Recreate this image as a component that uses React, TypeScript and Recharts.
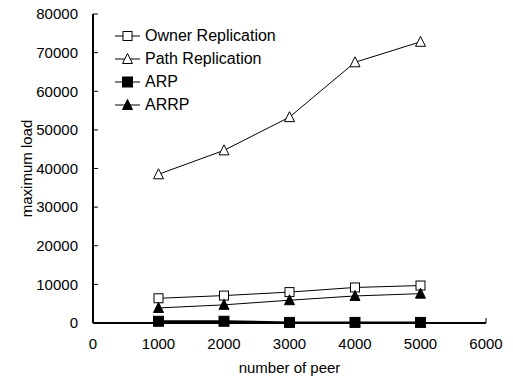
import React from "react";
import { Label, Legend, Line, LineChart, XAxis, YAxis } from "recharts";

const peers = [1000, 2000, 3000, 4000, 5000];
const ownerReplication = [6400, 7100, 8000, 9200, 9700];
const pathReplication = [38500, 44700, 53300, 67500, 72800];
const arp = [450, 450, 150, 150, 150];
const arrp = [3900, 4700, 5900, 7000, 7600];

const xTicks = [0, 1000, 2000, 3000, 4000, 5000, 6000];
const yTicks = [0, 10000, 20000, 30000, 40000, 50000, 60000, 70000, 80000];

const data = peers.map((peer, i) => ({
  peer,
  owner: ownerReplication[i],
  path: pathReplication[i],
  arp: arp[i],
  arrp: arrp[i],
}));

const FONT = "'Liberation Sans', Arial, sans-serif";

type Shape = "openSquare" | "openTriangle" | "square" | "triangle";

function marker(shape: Shape, cx: number, cy: number, key?: string) {
  if (shape === "openSquare" || shape === "square") {
    const s = shape === "square" ? 10 : 9;
    return (
      <rect
        key={key}
        x={cx - s / 2}
        y={cy - s / 2}
        width={s}
        height={s}
        fill={shape === "square" ? "#000" : "#fff"}
        stroke="#000"
        strokeWidth={1}
      />
    );
  }
  const h = 9;
  const w = 10;
  return (
    <polygon
      key={key}
      points={`${cx},${cy - h / 2 - 1} ${cx - w / 2},${cy + h / 2} ${cx + w / 2},${cy + h / 2}`}
      fill={shape === "triangle" ? "#000" : "#fff"}
      stroke="#000"
      strokeWidth={1}
    />
  );
}

const dot = (shape: Shape) => (props: any) => {
  const { cx, cy, index } = props;
  if (cx == null || cy == null) return <g key={index} />;
  return marker(shape, cx, cy, `${shape}-${index}`);
};

const series: { key: string; name: string; shape: Shape }[] = [
  { key: "owner", name: "Owner Replication", shape: "openSquare" },
  { key: "path", name: "Path Replication", shape: "openTriangle" },
  { key: "arp", name: "ARP", shape: "square" },
  { key: "arrp", name: "ARRP", shape: "triangle" },
];

// legend drawn by hand so the markers match the line dots
function LegendBox() {
  return (
    <div style={{ fontFamily: FONT, fontSize: 16, color: "#000" }}>
      {series.map((s) => (
        <div key={s.key} style={{ display: "flex", alignItems: "center", height: 22.8 }}>
          <svg width={30} height={14} style={{ overflow: "visible" }}>
            <line x1={0} y1={7} x2={25} y2={7} stroke="#000" strokeWidth={1} />
            {marker(s.shape, 12.5, 7)}
          </svg>
          <span style={{ lineHeight: "16px", whiteSpace: "nowrap" }}>{s.name}</span>
        </div>
      ))}
    </div>
  );
}

const tickStyle = { fill: "#000", fontSize: 15, fontFamily: FONT };

export default function App() {
  return (
    <div style={{ position: "absolute", left: 0, top: 0, background: "#fff" }}>
      <LineChart
        width={513}
        height={381}
        data={data}
        margin={{ top: 14, right: 27, left: 0, bottom: 0 }}
      >
        <XAxis
          dataKey="peer"
          type="number"
          domain={[0, 6000]}
          ticks={xTicks}
          interval={0}
          height={58}
          tick={tickStyle}
          tickSize={-5}
          tickMargin={20}
          axisLine={{ stroke: "#000", strokeWidth: 2 }}
          tickLine={{ stroke: "#000" }}
        >
          <Label
            value="number of peer"
            position="center"
            dy={16}
            style={{ fill: "#000", fontSize: 15, fontFamily: FONT }}
          />
        </XAxis>
        <XAxis
          xAxisId="top"
          orientation="top"
          dataKey="peer"
          type="number"
          domain={[0, 6000]}
          height={0}
          tick={false}
          tickLine={false}
          axisLine={{ stroke: "#000", strokeWidth: 2 }}
        />
        <YAxis
          type="number"
          domain={[0, 80000]}
          ticks={yTicks}
          interval={0}
          width={93}
          tick={tickStyle}
          tickSize={-5}
          tickMargin={20}
          axisLine={{ stroke: "#000", strokeWidth: 2 }}
          tickLine={{ stroke: "#000" }}
        >
          <Label
            value="maximum load"
            angle={-90}
            position="center"
            dx={-20}
            style={{ fill: "#000", fontSize: 15, fontFamily: FONT, textAnchor: "middle" }}
          />
        </YAxis>
        <YAxis
          yAxisId="right"
          orientation="right"
          domain={[0, 80000]}
          width={0}
          tick={false}
          tickLine={false}
          axisLine={{ stroke: "#000", strokeWidth: 2 }}
        />
        <Legend
          verticalAlign="middle"
          align="center"
          layout="vertical"
          content={() => <LegendBox />}
          wrapperStyle={{ left: 115, top: 25, width: 200, height: 92 }}
        />
        {series.map((s) => (
          <Line
            key={s.key}
            dataKey={s.key}
            name={s.name}
            stroke="#000"
            strokeWidth={s.key === "arp" ? 2 : 1}
            dot={dot(s.shape)}
            activeDot={false}
            isAnimationActive={false}
          />
        ))}
      </LineChart>
    </div>
  );
}
